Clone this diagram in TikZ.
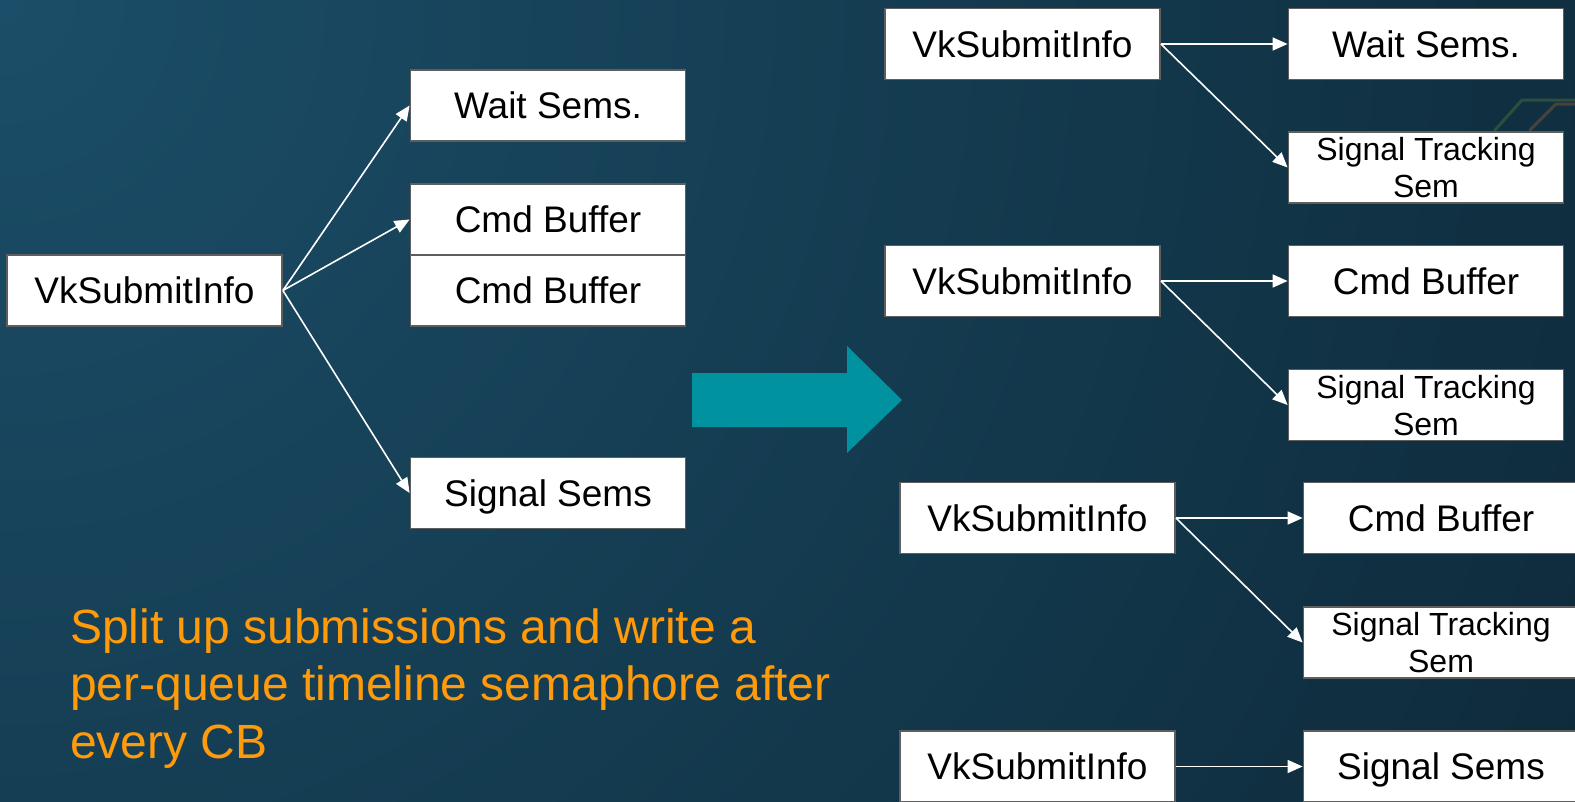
\documentclass[tikz,border=0pt]{standalone}
\usepackage{fontspec}
\setmainfont{Liberation Sans}
\usetikzlibrary{arrows.meta}
\definecolor{bgA}{HTML}{1B4E68}
\definecolor{bgB}{HTML}{0B2230}
\definecolor{boxgray}{HTML}{5E5E5E}
\definecolor{noteorange}{HTML}{FF9A0A}
\definecolor{bigteal}{HTML}{00939F}
\definecolor{traceA}{HTML}{D0702A}
\definecolor{traceB}{HTML}{6A9A2A}
\begin{document}
\begin{tikzpicture}[x=1pt,y=-1pt,
  box/.style={draw=boxgray, line width=1.8pt, fill=white, minimum width=275pt,
    minimum height=71pt, inner sep=0pt, align=center, text=black,
    font=\fontsize{37}{38}\selectfont, text height=26pt, text depth=0pt},
  stbox/.style={box, font=\fontsize{32}{37}\selectfont, text height=60pt, text depth=0pt},
  link/.style={draw=white, line width=1.6pt, -{Triangle[length=15pt,width=13pt]}},
  trace/.style={line width=3pt, opacity=0.3, line cap=round}]
\begin{scope}
  \clip (0,0) rectangle (1575,801);
  \shade[inner color=bgA, outer color=bgB] (0,0) circle[radius=2200];
  % faint circuit traces at the right edge
  \draw[trace, traceB] (1495,130) -- (1522,100) -- (1575,100);
  \draw[trace, traceA] (1530,130) -- (1556,104) -- (1575,104);
\end{scope}
\useasboundingbox (0,0) rectangle (1575,801);

% left: one submission
\node[box] (lvk) at (144.5,290.5) {VkSubmitInfo};
\node[box] (lwait) at (548,105.5) {Wait Sems.};
\node[box] (lcba) at (548,219.5) {Cmd Buffer};
\node[box] (lcbb) at (548,290.5) {Cmd Buffer};
\node[box] (lsig) at (548,493) {Signal Sems};
\draw[link] (lvk.east) -- (lwait.west);
\draw[link] (lvk.east) -- (lcba.west);
\draw[link] (lvk.east) -- (lsig.west);

% big arrow
\fill[bigteal] (692,373) -- (847,373) -- (847,346) -- (902,400) -- (847,453)
  -- (847,427) -- (692,427) -- cycle;

% right: split submissions
\node[box] (vka) at (1022.5,44) {VkSubmitInfo};
\node[box] (waita) at (1426,44) {Wait Sems.};
\node[stbox] (sta) at (1426,167.5) {Signal Tracking\\Sem};
\node[box] (vkb) at (1022.5,281) {VkSubmitInfo};
\node[box] (cbb) at (1426,281) {Cmd Buffer};
\node[stbox] (stb) at (1426,405) {Signal Tracking\\Sem};
\node[box] (vkc) at (1037.5,518) {VkSubmitInfo};
\node[box] (cbc) at (1441,518) {Cmd Buffer};
\node[stbox] (stc) at (1441,642.5) {Signal Tracking\\Sem};
\node[box] (vkd) at (1037.5,766.5) {VkSubmitInfo};
\node[box] (sigd) at (1441,766.5) {Signal Sems};

\draw[link] (vka.east) -- (waita.west);
\draw[link] (vka.east) -- (sta.west);
\draw[link] (vkb.east) -- (cbb.west);
\draw[link] (vkb.east) -- (stb.west);
\draw[link] (vkc.east) -- (cbc.west);
\draw[link] (vkc.east) -- (stc.west);
\draw[link] (vkd.east) -- (sigd.west);

% note (anchored at the baseline of its last line)
\node[anchor=base west, align=left, inner sep=0pt, text=noteorange,
  font=\fontsize{48}{57.5}\selectfont] (note) at (70,758)
  {Split up submissions and write a\\per-queue timeline semaphore after\\every CB};
\end{tikzpicture}
\end{document}
